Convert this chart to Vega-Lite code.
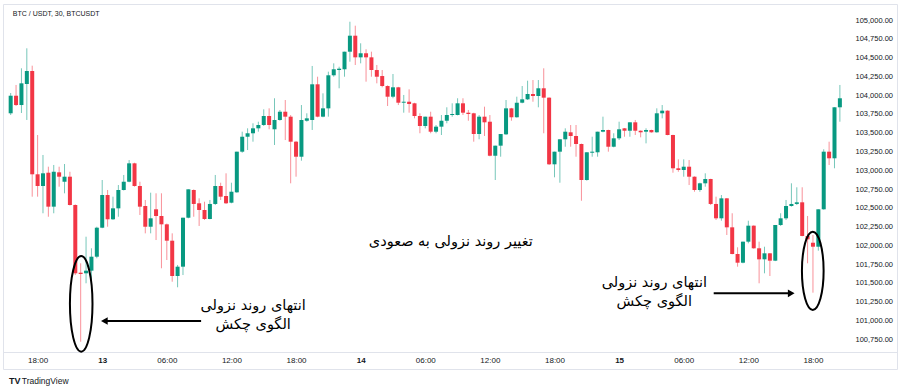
{
"$schema":"https://vega.github.io/schema/vega-lite/v6.json",
"width":894,"height":365,
"autosize":{"type":"none"},
"padding":{"left":3,"top":4,"right":7,"bottom":21},
"background":"white",
"config":{"view":{"stroke":"#e0e3eb","strokeWidth":1},"font":"Liberation Sans","axis":{"labelOverlap":false,"labelFlush":false}},
"datasets":{"candles":[
{"t":"2025-05-12T15:30","o":103758,"h":104028,"l":103735,"c":103992},
{"t":"2025-05-12T16:00","o":103992,"h":104135,"l":103855,"c":103868},
{"t":"2025-05-12T16:30","o":103868,"h":104357,"l":103762,"c":104157},
{"t":"2025-05-12T17:00","o":104148,"h":104623,"l":103669,"c":104321},
{"t":"2025-05-12T17:30","o":104321,"h":104392,"l":102648,"c":102946},
{"t":"2025-05-12T18:00","o":102946,"h":103469,"l":102648,"c":102790},
{"t":"2025-05-12T18:30","o":102790,"h":103203,"l":102427,"c":102959},
{"t":"2025-05-12T19:00","o":102967,"h":103047,"l":102381,"c":102515},
{"t":"2025-05-12T19:30","o":102515,"h":103070,"l":102427,"c":102980},
{"t":"2025-05-12T20:00","o":102972,"h":103047,"l":102781,"c":102914},
{"t":"2025-05-12T20:30","o":102847,"h":103083,"l":102693,"c":102914},
{"t":"2025-05-12T21:00","o":102914,"h":102980,"l":102530,"c":102537},
{"t":"2025-05-12T21:30","o":102537,"h":102545,"l":101605,"c":101628},
{"t":"2025-05-12T22:00","o":101636,"h":101761,"l":100717,"c":101619},
{"t":"2025-05-12T22:30","o":101628,"h":102115,"l":101495,"c":101663},
{"t":"2025-05-12T23:00","o":101663,"h":101961,"l":101516,"c":101849},
{"t":"2025-05-12T23:30","o":101849,"h":102248,"l":101828,"c":102235},
{"t":"2025-05-13T00:00","o":102235,"h":102870,"l":102228,"c":102670},
{"t":"2025-05-13T00:30","o":102670,"h":102737,"l":102248,"c":102347},
{"t":"2025-05-13T01:00","o":102347,"h":102648,"l":102338,"c":102493},
{"t":"2025-05-13T01:30","o":102493,"h":102803,"l":102381,"c":102737},
{"t":"2025-05-13T02:00","o":102737,"h":102937,"l":102730,"c":102847},
{"t":"2025-05-13T02:30","o":102847,"h":103136,"l":102840,"c":103092},
{"t":"2025-05-13T03:00","o":103092,"h":103100,"l":102781,"c":102790},
{"t":"2025-05-13T03:30","o":102790,"h":102847,"l":102404,"c":102515},
{"t":"2025-05-13T04:00","o":102524,"h":102604,"l":102160,"c":102248},
{"t":"2025-05-13T04:30","o":102248,"h":102701,"l":102160,"c":102360},
{"t":"2025-05-13T05:00","o":102480,"h":102693,"l":102071,"c":102391},
{"t":"2025-05-13T05:30","o":102391,"h":102693,"l":101695,"c":102280},
{"t":"2025-05-13T06:00","o":102280,"h":102290,"l":101805,"c":102062},
{"t":"2025-05-13T06:30","o":102062,"h":102160,"l":101516,"c":101592},
{"t":"2025-05-13T07:00","o":101592,"h":101739,"l":101442,"c":101716},
{"t":"2025-05-13T07:30","o":101716,"h":102368,"l":101605,"c":102368},
{"t":"2025-05-13T08:00","o":102368,"h":102746,"l":102360,"c":102746},
{"t":"2025-05-13T08:30","o":102737,"h":102745,"l":102381,"c":102551},
{"t":"2025-05-13T09:00","o":102560,"h":102626,"l":102258,"c":102471},
{"t":"2025-05-13T09:30","o":102471,"h":102581,"l":102338,"c":102351},
{"t":"2025-05-13T10:00","o":102351,"h":102604,"l":102347,"c":102551},
{"t":"2025-05-13T10:30","o":102551,"h":102937,"l":102537,"c":102790},
{"t":"2025-05-13T11:00","o":102790,"h":102834,"l":102604,"c":102648},
{"t":"2025-05-13T11:30","o":102657,"h":102959,"l":102551,"c":102560},
{"t":"2025-05-13T12:00","o":102568,"h":102834,"l":102560,"c":102714},
{"t":"2025-05-13T12:30","o":102706,"h":103247,"l":102700,"c":103247},
{"t":"2025-05-13T13:00","o":103247,"h":103513,"l":103233,"c":103446},
{"t":"2025-05-13T13:30","o":103446,"h":103558,"l":103269,"c":103492},
{"t":"2025-05-13T14:00","o":103492,"h":103625,"l":103380,"c":103558},
{"t":"2025-05-13T14:30","o":103558,"h":103646,"l":103513,"c":103602},
{"t":"2025-05-13T15:00","o":103602,"h":103811,"l":103589,"c":103722},
{"t":"2025-05-13T15:30","o":103722,"h":103824,"l":103545,"c":103602},
{"t":"2025-05-13T16:00","o":103545,"h":103958,"l":103336,"c":103669},
{"t":"2025-05-13T16:30","o":103669,"h":103802,"l":103660,"c":103779},
{"t":"2025-05-13T17:00","o":103779,"h":103935,"l":103402,"c":103713},
{"t":"2025-05-13T17:30","o":103713,"h":103735,"l":102826,"c":103380},
{"t":"2025-05-13T18:00","o":103380,"h":103390,"l":102914,"c":103180},
{"t":"2025-05-13T18:30","o":103180,"h":103868,"l":103127,"c":103669},
{"t":"2025-05-13T19:00","o":103659,"h":103758,"l":103646,"c":103691},
{"t":"2025-05-13T19:30","o":103669,"h":104388,"l":103536,"c":104144},
{"t":"2025-05-13T20:00","o":104144,"h":104245,"l":103705,"c":103713},
{"t":"2025-05-13T20:30","o":103713,"h":104024,"l":103705,"c":103824},
{"t":"2025-05-13T21:00","o":103824,"h":104312,"l":103713,"c":104264},
{"t":"2025-05-13T21:30","o":104264,"h":104423,"l":104245,"c":104344},
{"t":"2025-05-13T22:00","o":104334,"h":104378,"l":104091,"c":104352},
{"t":"2025-05-13T22:30","o":104344,"h":104578,"l":104245,"c":104578},
{"t":"2025-05-13T23:00","o":104578,"h":104977,"l":104445,"c":104791},
{"t":"2025-05-13T23:30","o":104791,"h":104924,"l":104401,"c":104503},
{"t":"2025-05-14T00:00","o":104503,"h":104690,"l":104423,"c":104557},
{"t":"2025-05-14T00:30","o":104557,"h":104610,"l":104179,"c":104503},
{"t":"2025-05-14T01:00","o":104503,"h":104578,"l":104245,"c":104334},
{"t":"2025-05-14T01:30","o":104334,"h":104401,"l":104157,"c":104245},
{"t":"2025-05-14T02:00","o":104254,"h":104334,"l":104104,"c":104121},
{"t":"2025-05-14T02:30","o":104121,"h":104130,"l":103855,"c":103979},
{"t":"2025-05-14T03:00","o":103979,"h":104281,"l":103958,"c":104104},
{"t":"2025-05-14T03:30","o":104104,"h":104110,"l":103868,"c":103899},
{"t":"2025-05-14T04:00","o":103899,"h":104002,"l":103766,"c":103912},
{"t":"2025-05-14T04:30","o":103912,"h":104077,"l":103766,"c":103882},
{"t":"2025-05-14T05:00","o":103891,"h":103898,"l":103691,"c":103722},
{"t":"2025-05-14T05:30","o":103722,"h":103758,"l":103492,"c":103589},
{"t":"2025-05-14T06:00","o":103589,"h":103713,"l":103558,"c":103713},
{"t":"2025-05-14T06:30","o":103713,"h":103779,"l":103492,"c":103513},
{"t":"2025-05-14T07:00","o":103513,"h":103602,"l":103492,"c":103580},
{"t":"2025-05-14T07:30","o":103580,"h":103735,"l":103469,"c":103659},
{"t":"2025-05-14T08:00","o":103659,"h":103838,"l":103625,"c":103735},
{"t":"2025-05-14T08:30","o":103735,"h":103891,"l":103713,"c":103749},
{"t":"2025-05-14T09:00","o":103735,"h":103958,"l":103730,"c":103891},
{"t":"2025-05-14T09:30","o":103891,"h":103958,"l":103735,"c":103766},
{"t":"2025-05-14T10:00","o":103766,"h":103802,"l":103659,"c":103749},
{"t":"2025-05-14T10:30","o":103758,"h":103765,"l":103380,"c":103482},
{"t":"2025-05-14T11:00","o":103482,"h":103735,"l":103412,"c":103713},
{"t":"2025-05-14T11:30","o":103713,"h":103846,"l":103456,"c":103638},
{"t":"2025-05-14T12:00","o":103646,"h":103735,"l":103185,"c":103193},
{"t":"2025-05-14T12:30","o":103193,"h":103327,"l":102870,"c":103327},
{"t":"2025-05-14T13:00","o":103327,"h":103482,"l":103180,"c":103482},
{"t":"2025-05-14T13:30","o":103478,"h":103935,"l":103470,"c":103824},
{"t":"2025-05-14T14:00","o":103824,"h":103830,"l":103659,"c":103705},
{"t":"2025-05-14T14:30","o":103705,"h":103979,"l":103700,"c":103899},
{"t":"2025-05-14T15:00","o":103899,"h":104121,"l":103891,"c":103944},
{"t":"2025-05-14T15:30","o":103944,"h":104192,"l":103935,"c":104015},
{"t":"2025-05-14T16:00","o":104015,"h":104201,"l":103912,"c":103988},
{"t":"2025-05-14T16:30","o":103988,"h":104201,"l":103838,"c":104091},
{"t":"2025-05-14T17:00","o":104091,"h":104357,"l":103492,"c":103966},
{"t":"2025-05-14T17:30","o":103966,"h":103970,"l":103070,"c":103079},
{"t":"2025-05-14T18:00","o":103079,"h":103247,"l":102906,"c":103247},
{"t":"2025-05-14T18:30","o":103247,"h":103412,"l":102834,"c":103412},
{"t":"2025-05-14T19:00","o":103412,"h":103558,"l":103313,"c":103513},
{"t":"2025-05-14T19:30","o":103505,"h":103602,"l":103313,"c":103456},
{"t":"2025-05-14T20:00","o":103456,"h":103602,"l":103180,"c":103349},
{"t":"2025-05-14T20:30","o":103349,"h":103355,"l":102594,"c":102870},
{"t":"2025-05-14T21:00","o":102870,"h":103239,"l":102861,"c":103239},
{"t":"2025-05-14T21:30","o":103233,"h":103446,"l":103180,"c":103247},
{"t":"2025-05-14T22:00","o":103239,"h":103513,"l":103180,"c":103513},
{"t":"2025-05-14T22:30","o":103513,"h":103713,"l":103505,"c":103536},
{"t":"2025-05-14T23:00","o":103536,"h":103540,"l":103247,"c":103313},
{"t":"2025-05-14T23:30","o":103313,"h":103492,"l":103305,"c":103425},
{"t":"2025-05-15T00:00","o":103425,"h":103646,"l":103402,"c":103545},
{"t":"2025-05-15T00:30","o":103558,"h":103562,"l":103446,"c":103526},
{"t":"2025-05-15T01:00","o":103526,"h":103638,"l":103446,"c":103638},
{"t":"2025-05-15T01:30","o":103638,"h":103669,"l":103469,"c":103526},
{"t":"2025-05-15T02:00","o":103526,"h":103530,"l":103438,"c":103505},
{"t":"2025-05-15T02:30","o":103513,"h":103558,"l":103358,"c":103536},
{"t":"2025-05-15T03:00","o":103536,"h":103540,"l":103500,"c":103505},
{"t":"2025-05-15T03:30","o":103505,"h":103824,"l":103500,"c":103758},
{"t":"2025-05-15T04:00","o":103758,"h":103868,"l":103691,"c":103793},
{"t":"2025-05-15T04:30","o":103793,"h":103797,"l":103465,"c":103469},
{"t":"2025-05-15T05:00","o":103469,"h":103473,"l":102967,"c":103026},
{"t":"2025-05-15T05:30","o":103026,"h":103145,"l":102980,"c":103003},
{"t":"2025-05-15T06:00","o":103003,"h":103145,"l":102914,"c":103047},
{"t":"2025-05-15T06:30","o":103047,"h":103136,"l":102803,"c":102914},
{"t":"2025-05-15T07:00","o":102914,"h":102918,"l":102714,"c":102737},
{"t":"2025-05-15T07:30","o":102737,"h":102834,"l":102714,"c":102826},
{"t":"2025-05-15T08:00","o":102826,"h":102959,"l":102781,"c":102883},
{"t":"2025-05-15T08:30","o":102883,"h":102887,"l":102537,"c":102551},
{"t":"2025-05-15T09:00","o":102551,"h":102648,"l":102338,"c":102360},
{"t":"2025-05-15T09:30","o":102360,"h":102670,"l":102328,"c":102626},
{"t":"2025-05-15T10:00","o":102626,"h":102630,"l":102138,"c":102240},
{"t":"2025-05-15T10:30","o":102240,"h":102427,"l":101880,"c":101885},
{"t":"2025-05-15T11:00","o":101885,"h":101974,"l":101716,"c":101769},
{"t":"2025-05-15T11:30","o":101769,"h":102049,"l":101761,"c":102049},
{"t":"2025-05-15T12:00","o":102049,"h":102328,"l":102027,"c":102262},
{"t":"2025-05-15T12:30","o":102262,"h":102266,"l":101955,"c":101961},
{"t":"2025-05-15T13:00","o":101961,"h":102049,"l":101495,"c":101814},
{"t":"2025-05-15T13:30","o":101814,"h":101982,"l":101628,"c":101894},
{"t":"2025-05-15T14:00","o":101894,"h":101898,"l":101592,"c":101796},
{"t":"2025-05-15T14:30","o":101796,"h":102271,"l":101790,"c":102271},
{"t":"2025-05-15T15:00","o":102271,"h":102427,"l":102258,"c":102360},
{"t":"2025-05-15T15:30","o":102360,"h":102604,"l":102338,"c":102524},
{"t":"2025-05-15T16:00","o":102524,"h":102826,"l":102515,"c":102551},
{"t":"2025-05-15T16:30","o":102551,"h":102773,"l":102537,"c":102573},
{"t":"2025-05-15T17:00","o":102573,"h":102773,"l":102120,"c":102125},
{"t":"2025-05-15T17:30","o":102125,"h":102391,"l":101761,"c":102080},
{"t":"2025-05-15T18:00","o":102035,"h":102138,"l":101370,"c":101982},
{"t":"2025-05-15T18:30","o":101982,"h":102480,"l":101929,"c":102480},
{"t":"2025-05-15T19:00","o":102480,"h":103279,"l":102475,"c":103247},
{"t":"2025-05-15T19:30","o":103247,"h":103380,"l":103070,"c":103159},
{"t":"2025-05-15T20:00","o":103159,"h":103838,"l":103026,"c":103838},
{"t":"2025-05-15T20:30","o":103838,"h":104135,"l":103646,"c":103958}
]},
"layer":[
{"data":{"name":"candles"},
 "mark":{"type":"rule","strokeWidth":1,"opacity":0.55},
 "encoding":{
  "x":{"field":"t","type":"temporal",
   "scale":{"domain":[{"year":2025,"month":5,"date":12,"hours":15,"minutes":15,"seconds":6},{"year":2025,"month":5,"date":16,"hours":1,"minutes":20,"seconds":24}]},
   "axis":{"orient":"bottom","offset":-17,"title":null,"grid":false,"ticks":false,"domain":true,"domainColor":"#e0e3eb","labelPadding":4,"labelFontSize":8,"labelColor":"#131722","labelFlush":false,"labelOverlap":false,"tickCount":40,
    "values":[{"year":2025,"month":5,"date":12,"hours":18},{"year":2025,"month":5,"date":13,"hours":0},{"year":2025,"month":5,"date":13,"hours":6},{"year":2025,"month":5,"date":13,"hours":12},{"year":2025,"month":5,"date":13,"hours":18},{"year":2025,"month":5,"date":14,"hours":0},{"year":2025,"month":5,"date":14,"hours":6},{"year":2025,"month":5,"date":14,"hours":12},{"year":2025,"month":5,"date":14,"hours":18},{"year":2025,"month":5,"date":15,"hours":0},{"year":2025,"month":5,"date":15,"hours":6},{"year":2025,"month":5,"date":15,"hours":12},{"year":2025,"month":5,"date":15,"hours":18}],
    "labelExpr":"hours(datum.value) === 0 ? timeFormat(datum.value, '%-d') : timeFormat(datum.value, '%H:%M')",
    "labelFontWeight":{"condition":{"test":"hours(datum.value) === 0","value":"bold"},"value":"normal"}}},
  "y":{"field":"l","type":"quantitative",
   "scale":{"domain":[100354,105213],"zero":false,"nice":false},
   "axis":{"orient":"right","offset":-45,"title":null,"grid":false,"ticks":false,"domain":false,"labelPadding":3,"labelFontSize":7.5,"labelColor":"#131722","labelFlush":false,"labelOverlap":false,"format":",.2f","tickCount":40,
    "values":[100750,101000,101250,101500,101750,102000,102250,102500,102750,103000,103250,103500,103750,104000,104250,104500,104750,105000]}},
  "y2":{"field":"h"},
  "color":{"condition":{"test":"datum.c >= datum.o","value":"#089981"},"value":"#F23645"}}},
{"data":{"name":"candles"},
 "mark":{"type":"bar","width":4},
 "encoding":{
  "x":{"field":"t","type":"temporal","axis":{"title":null}},
  "y":{"field":"o","type":"quantitative","axis":{"title":null}},
  "y2":{"field":"c"},
  "color":{"condition":{"test":"datum.c >= datum.o","value":"#089981"},"value":"#F23645"}}},
{"data":{"values":[{"t":"2025-05-12T22:03","p":101222}]},
 "mark":{"type":"point","filled":false,"stroke":"black","strokeWidth":2,"opacity":1,"size":9158,
  "shape":"M0,-1C0.1303,-1,0.236,-0.5523,0.236,0C0.236,0.5523,0.1303,1,0,1C-0.1303,1,-0.236,0.5523,-0.236,0C-0.236,-0.5523,-0.1303,-1,0,-1Z"},
 "encoding":{"x":{"field":"t","type":"temporal","axis":{"title":null}},"y":{"field":"p","type":"quantitative","axis":{"title":null}}}},
{"data":{"values":[{"t":"2025-05-15T17:59","p":101661}]},
 "mark":{"type":"point","filled":false,"stroke":"black","strokeWidth":2,"opacity":1,"size":6131,
  "shape":"M0,-1C0.153,-1,0.277,-0.5523,0.277,0C0.277,0.5523,0.153,1,0,1C-0.153,1,-0.277,0.5523,-0.277,0C-0.277,-0.5523,-0.153,-1,0,-1Z"},
 "encoding":{"x":{"field":"t","type":"temporal","axis":{"title":null}},"y":{"field":"p","type":"quantitative","axis":{"title":null}}}},
{"data":{"values":[{"t":"2025-05-13T00:15","t2":"2025-05-13T09:11","p":100993},{"t":"2025-05-15T08:47","t2":"2025-05-15T15:59","p":101362}]},
 "mark":{"type":"rule","strokeWidth":2,"color":"black"},
 "encoding":{"x":{"field":"t","type":"temporal","axis":{"title":null}},"x2":{"field":"t2"},"y":{"field":"p","type":"quantitative","axis":{"title":null}}}},
{"data":{"values":[{"t":"2025-05-13T00:12","p":100993}]},
 "mark":{"type":"point","shape":"triangle-left","filled":true,"color":"black","opacity":1,"size":60},
 "encoding":{"x":{"field":"t","type":"temporal","axis":{"title":null}},"y":{"field":"p","type":"quantitative","axis":{"title":null}}}},
{"data":{"values":[{"t":"2025-05-15T15:59","p":101362}]},
 "mark":{"type":"point","shape":"triangle-right","filled":true,"color":"black","opacity":1,"size":60},
 "encoding":{"x":{"field":"t","type":"temporal","axis":{"title":null}},"y":{"field":"p","type":"quantitative","axis":{"title":null}}}},
{"data":{"values":[
  {"t":"2025-05-13T14:01","p":101193,"label":"انتهای روند نزولی"},
  {"t":"2025-05-13T14:01","p":100940,"label":"الگوی چکش"},
  {"t":"2025-05-15T03:16","p":101503,"label":"انتهای روند نزولی"},
  {"t":"2025-05-15T03:16","p":101250,"label":"الگوی چکش"}]},
 "mark":{"type":"text","align":"center","baseline":"middle","fontSize":14.5,"font":"DejaVu Sans","color":"black"},
 "encoding":{"x":{"field":"t","type":"temporal","axis":{"title":null}},"y":{"field":"p","type":"quantitative","axis":{"title":null}},"text":{"field":"label"}}},
{"data":{"values":[{"t":"2025-05-14T08:22","p":102048,"label":"تغییر روند نزولی به صعودی"}]},
 "mark":{"type":"text","align":"center","baseline":"middle","fontSize":14.5,"font":"DejaVu Sans","color":"black"},
 "encoding":{"x":{"field":"t","type":"temporal","axis":{"title":null}},"y":{"field":"p","type":"quantitative","axis":{"title":null}},"text":{"field":"label"}}},
{"data":{"values":[{"t":"2025-05-12T15:42","p":105080,"label":"BTC / USDT, 30, BTCUSDT"}]},
 "mark":{"type":"text","align":"left","baseline":"middle","fontSize":7,"color":"#131722"},
 "encoding":{"x":{"field":"t","type":"temporal","axis":{"title":null}},"y":{"field":"p","type":"quantitative","axis":{"title":null}},"text":{"field":"label"}}},
{"data":{"values":[{"t":"2025-05-12T15:20","p":100194,"label":"TV"}]},
 "mark":{"type":"text","align":"left","baseline":"middle","fontSize":9,"fontWeight":"bold","color":"#131722"},
 "encoding":{"x":{"field":"t","type":"temporal","axis":{"title":null}},"y":{"field":"p","type":"quantitative","axis":{"title":null}},"text":{"field":"label"}}},
{"data":{"values":[{"t":"2025-05-12T16:32","p":100194,"label":"TradingView"}]},
 "mark":{"type":"text","align":"left","baseline":"middle","fontSize":8.5,"color":"#131722"},
 "encoding":{"x":{"field":"t","type":"temporal","axis":{"title":null}},"y":{"field":"p","type":"quantitative","axis":{"title":null}},"text":{"field":"label"}}}
]
}
